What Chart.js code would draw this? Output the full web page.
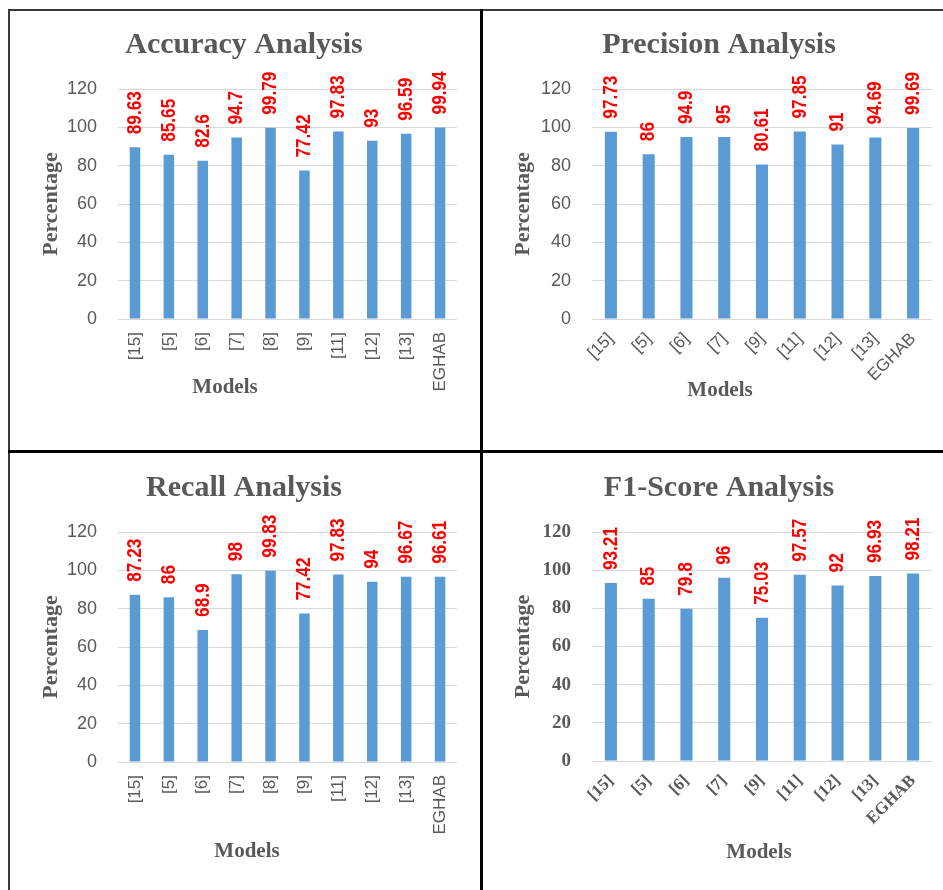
<!DOCTYPE html>
<html>
<head>
<meta charset="utf-8">
<script src="https://cdn.jsdelivr.net/npm/chart.js@4.4.1/dist/chart.umd.min.js"></script>
<style>
  html, body { margin: 0; padding: 0; background: #ffffff; }
  body { width: 943px; height: 890px; position: relative; overflow: hidden; }
  .box { position: absolute; }
  .rule { position: absolute; }
</style>
</head>
<body>
<!-- frame lines around and between the four panels -->
<div class="rule" style="left:8px;top:9px;width:935px;height:2px;background:#3a3a3a"></div>
<div class="rule" style="left:8px;top:9px;width:2px;height:881px;background:#3a3a3a"></div>
<div class="rule" style="left:480px;top:9px;width:3px;height:881px;background:#000"></div>
<div class="rule" style="left:8px;top:450px;width:935px;height:3px;background:#000"></div>

<div class="box" style="left:10px;top:10px"><canvas id="accChart" width="468" height="440"></canvas></div>
<div class="box" style="left:495px;top:10px"><canvas id="precChart" width="448" height="440"></canvas></div>
<div class="box" style="left:10px;top:453px"><canvas id="recChart" width="468" height="437"></canvas></div>
<div class="box" style="left:495px;top:453px"><canvas id="f1Chart" width="448" height="437"></canvas></div>

<script>
// Model references compared in each metric
const modelsWith8 = ['[15]', '[5]', '[6]', '[7]', '[8]', '[9]', '[11]', '[12]', '[13]', 'EGHAB'];
const modelsNo8   = ['[15]', '[5]', '[6]', '[7]', '[9]', '[11]', '[12]', '[13]', 'EGHAB'];

// Metric values (%)
const accuracy  = [89.63, 85.65, 82.6, 94.7, 99.79, 77.42, 97.83, 93, 96.59, 99.94];
const precision = [97.73, 86, 94.9, 95, 80.61, 97.85, 91, 94.69, 99.69];
const recall    = [87.23, 86, 68.9, 98, 99.83, 77.42, 97.83, 94, 96.67, 96.61];
const f1Score   = [93.21, 85, 79.8, 96, 75.03, 97.57, 92, 96.93, 98.21];

// Percentage axis
const yMin = 0, yMax = 120, yStep = 20;

const BAR_BLUE = '#5B9BD5';
const GRID = '#D9D9D9';
const TEXT_GREY = '#595959';
const SERIF = '"Liberation Serif", "Times New Roman", serif';
const SANS = '"Liberation Sans", Arial, sans-serif';

// Red rotated value labels above each bar
const valueLabels = {
  id: 'valueLabels',
  afterDatasetsDraw(chart) {
    const ctx = chart.ctx;
    const values = chart.data.datasets[0].data;
    chart.getDatasetMeta(0).data.forEach((bar, i) => {
      ctx.save();
      ctx.translate(bar.x, bar.y - 13);
      ctx.rotate(-Math.PI / 2);
      ctx.scale(0.82, 1);
      ctx.font = 'bold 21px ' + SANS;
      ctx.fillStyle = '#FF0000';
      ctx.textAlign = 'left';
      ctx.textBaseline = 'middle';
      ctx.fillText(String(values[i]), 0, 0);
      ctx.restore();
    });
  }
};

// "Models" caption under the category axis
const xCaption = {
  id: 'xCaption',
  afterDraw(chart, args, opts) {
    const { ctx, chartArea } = chart;
    ctx.save();
    ctx.font = 'bold 21px ' + SERIF;
    ctx.fillStyle = TEXT_GREY;
    ctx.textAlign = 'center';
    ctx.textBaseline = 'middle';
    ctx.fillText(opts.text, chartArea.left + opts.dx, chartArea.bottom + opts.dy);
    ctx.restore();
  }
};

function makePanel(id, p) {
  return new Chart(document.getElementById(id), {
    type: 'bar',
    data: {
      labels: p.labels,
      datasets: [{
        data: p.values,
        backgroundColor: BAR_BLUE,
        borderWidth: 0,
        categoryPercentage: 1,
        barPercentage: p.barPct
      }]
    },
    options: {
      responsive: false,
      animation: false,
      devicePixelRatio: 1,
      // equal side padding keeps the title centred on the canvas
      layout: { padding: { left: p.sidePad, right: p.sidePad, top: 0, bottom: 0 } },
      plugins: {
        legend: { display: false },
        tooltip: { enabled: false },
        title: {
          display: true,
          text: p.title,
          color: TEXT_GREY,
          font: { family: SERIF, size: 30, weight: 'bold', lineHeight: 1.2 },
          padding: { top: 17, bottom: 26 }
        },
        xCaption: { text: 'Models', dx: p.capDx, dy: p.capDy }
      },
      scales: {
        x: {
          grid: { display: false, drawTicks: false },
          border: { display: false },
          ticks: {
            color: TEXT_GREY,
            font: p.xTickFont,
            minRotation: p.rotation,
            maxRotation: p.rotation,
            autoSkip: false,
            padding: p.xTickPad
          },
          afterFit(scale) { scale.height = p.xAxisH; }
        },
        y: {
          min: yMin,
          max: yMax,
          ticks: {
            stepSize: yStep,
            color: TEXT_GREY,
            font: p.yTickFont,
            padding: 21
          },
          grid: { color: GRID, lineWidth: 1, drawTicks: false },
          border: { display: false },
          title: {
            display: true,
            text: 'Percentage',
            color: TEXT_GREY,
            font: { family: SERIF, size: 22, weight: 'bold', lineHeight: 1.2 },
            padding: { top: p.yTitlePad, bottom: 0 }
          },
          afterFit(scale) { scale.width = p.yAxisW; }
        }
      }
    },
    plugins: [valueLabels, xCaption]
  });
}

const plainTicks = { family: SANS, size: 18 };
const plainXTicks = { family: SANS, size: 17 };

makePanel('accChart', {
  title: 'Accuracy Analysis', labels: modelsWith8, values: accuracy,
  barPct: 0.31, rotation: 90, xTickFont: plainXTicks, yTickFont: plainTicks,
  xTickPad: 13, xAxisH: 131, sidePad: 21, yAxisW: 87, yTitlePad: 7,
  capDx: 107, capDy: 69
});

makePanel('precChart', {
  title: 'Precision Analysis', labels: modelsNo8, values: precision,
  barPct: 0.32, rotation: 45, xTickFont: plainXTicks, yTickFont: plainTicks,
  xTickPad: 10, xAxisH: 131, sidePad: 11, yAxisW: 86, yTitlePad: 4,
  capDx: 128, capDy: 72
});

makePanel('recChart', {
  title: 'Recall Analysis', labels: modelsWith8, values: recall,
  barPct: 0.31, rotation: 90, xTickFont: plainXTicks, yTickFont: plainTicks,
  xTickPad: 13, xAxisH: 128, sidePad: 21, yAxisW: 87, yTitlePad: 7,
  capDx: 129, capDy: 90
});

makePanel('f1Chart', {
  title: 'F1-Score Analysis', labels: modelsNo8, values: f1Score,
  barPct: 0.32, rotation: 45,
  xTickFont: { family: SERIF, size: 17, weight: 'bold' },
  yTickFont: { family: SERIF, size: 19, weight: 'bold' },
  xTickPad: 10, xAxisH: 129, sidePad: 11, yAxisW: 86, yTitlePad: 4,
  capDx: 167, capDy: 92
});
</script>
</body>
</html>
